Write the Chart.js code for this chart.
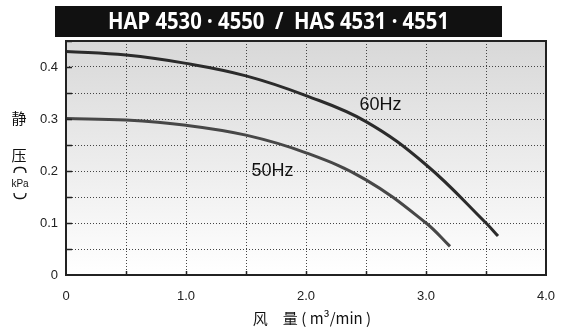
<!DOCTYPE html>
<html>
<head>
<meta charset="utf-8">
<script src="https://cdn.jsdelivr.net/npm/chart.js@4"></script>
<style>
  html, body { margin: 0; padding: 0; background: #fff; }
  #wrap { position: relative; width: 572px; height: 329px; }
</style>
</head>
<body>
<div id="wrap"><canvas id="myChart" width="572" height="329"></canvas></div>
<script>
// curve data (airflow m3/min, static pressure kPa)
var flow60 = [0, 0.5, 1.0, 1.5, 2.0, 2.5, 3.0, 3.5, 3.6];
var press60 = [0.43, 0.423, 0.407, 0.383, 0.345, 0.295, 0.212, 0.1, 0.075];
var flow50 = [0, 0.5, 1.0, 1.5, 2.0, 2.5, 3.0, 3.2];
var press50 = [0.301, 0.298, 0.288, 0.269, 0.235, 0.183, 0.1, 0.055];
var xTicks = ["0", "1.0", "2.0", "3.0", "4.0"];
var yTicks = ["0", "0.1", "0.2", "0.3", "0.4"];
var chartTitle = "HAP 4530 · 4550  /  HAS 4531 · 4551";
var xTitle = "风　量 ( m³/min )";

function toPoints(xs, ys) {
  return xs.map(function (x, i) { return { x: x, y: ys[i] }; });
}

var decor = {
  id: "decor",
  beforeDraw: function (chart) {
    var c = chart.ctx, a = chart.chartArea;
    var g = c.createLinearGradient(0, a.top, 0, a.bottom);
    g.addColorStop(0, "#d8d8d8");
    g.addColorStop(1, "#ffffff");
    c.save();
    c.fillStyle = g;
    c.fillRect(a.left, a.top, a.right - a.left, a.bottom - a.top);
    c.restore();
  },
  afterDatasetsDraw: function (chart) {
    var c = chart.ctx, a = chart.chartArea;
    var xs = chart.scales.x, ys = chart.scales.y;
    c.save();
    // small solid ticks inside the frame
    c.strokeStyle = "#222";
    c.lineWidth = 1.5;
    c.beginPath();
    for (var v = 0.05; v < 0.45; v += 0.05) {
      var py = Math.round(ys.getPixelForValue(v)) + 0.5;
      c.moveTo(a.left, py); c.lineTo(a.left + 6, py);
    }
    for (var u = 0.5; u < 4; u += 0.5) {
      var px = Math.round(xs.getPixelForValue(u)) + 0.5;
      c.moveTo(px, a.bottom); c.lineTo(px, a.bottom - 4);
    }
    c.stroke();
    // frame
    c.lineWidth = 2;
    c.strokeStyle = "#222";
    c.strokeRect(a.left, a.top, a.right - a.left, a.bottom - a.top);

    // curve labels
    c.fillStyle = "#111";
    c.font = "18px 'Liberation Sans', Arial, sans-serif";
    c.textAlign = "center";
    c.textBaseline = "middle";
    c.fillText("60Hz", xs.getPixelForValue(2.62), ys.getPixelForValue(0.327));
    c.fillText("50Hz", xs.getPixelForValue(1.72), ys.getPixelForValue(0.2));

    // title bar
    c.fillStyle = "#111";
    c.fillRect(55, 6, 447, 31);
    c.fillStyle = "#fff";
    c.font = "bold 23px 'Noto Sans', 'DejaVu Sans', sans-serif";
    c.textAlign = "left";
    var w = c.measureText(chartTitle).width;
    c.save();
    c.translate(108, 22);
    c.scale(341 / w, 1);
    c.fillText(chartTitle, 0, 0);
    c.restore();

    // axis titles
    c.fillStyle = "#111";
    c.textAlign = "center";
    c.font = "15px 'Noto Sans CJK SC', sans-serif";
    c.fillText(xTitle, 312, 318);
    c.fillText("静", 19, 118);
    c.fillText("压", 19, 155);
    c.font = "10px 'Liberation Sans', Arial, sans-serif";
    c.fillText("kPa", 20, 184);
    // vertical brackets around the unit
    c.strokeStyle = "#111";
    c.lineWidth = 1.3;
    c.beginPath();
    c.moveTo(14, 173);
    c.quadraticCurveTo(14, 167.5, 19, 167.5);
    c.lineTo(21, 167.5);
    c.quadraticCurveTo(26, 167.5, 26, 173);
    c.moveTo(14, 193);
    c.quadraticCurveTo(14, 198.5, 19, 198.5);
    c.lineTo(21, 198.5);
    c.quadraticCurveTo(26, 198.5, 26, 193);
    c.stroke();
    c.restore();
  }
};

var ctx = document.getElementById("myChart").getContext("2d");
var myChart = new Chart(ctx, {
  type: "line",
  data: {
    datasets: [
      {
        label: "60Hz",
        data: toPoints(flow60, press60),
        borderColor: "#2b2b2b",
        borderWidth: 3,
        pointRadius: 0,
        tension: 0.4,
      },
      {
        label: "50Hz",
        data: toPoints(flow50, press50),
        borderColor: "#474747",
        borderWidth: 3,
        pointRadius: 0,
        tension: 0.4,
      },
    ],
  },
  options: {
    responsive: false,
    animation: false,
    layout: { padding: { left: 0, right: 26, top: 41, bottom: 0 } },
    scales: {
      x: {
        type: "linear",
        min: 0,
        max: 4,
        afterFit: function (s) { s.height = 54; },
        border: { display: false, dash: [1, 2] },
        grid: { color: "#444", drawTicks: false, lineWidth: 1 },
        ticks: {
          stepSize: 0.5,
          padding: 14,
          color: "#222",
          font: { family: "'Liberation Sans', Arial, sans-serif", size: 13 },
          maxRotation: 0,
          callback: function (v) {
            var i = Math.round(v * 2);
            return i % 2 === 0 ? xTicks[i / 2] : "";
          },
        },
      },
      y: {
        type: "linear",
        min: 0,
        max: 0.45,
        afterFit: function (s) { s.width = 66; },
        border: { display: false, dash: [1, 2] },
        grid: { color: "#444", drawTicks: false, lineWidth: 1 },
        ticks: {
          stepSize: 0.05,
          padding: 8,
          color: "#222",
          font: { family: "'Liberation Sans', Arial, sans-serif", size: 13 },
          callback: function (v) {
            var i = Math.round(v * 20);
            return i % 2 === 0 && i / 2 < yTicks.length ? yTicks[i / 2] : "";
          },
        },
      },
    },
    plugins: {
      legend: { display: false },
      tooltip: { enabled: false },
    },
  },
  plugins: [decor],
});
</script>
</body>
</html>
